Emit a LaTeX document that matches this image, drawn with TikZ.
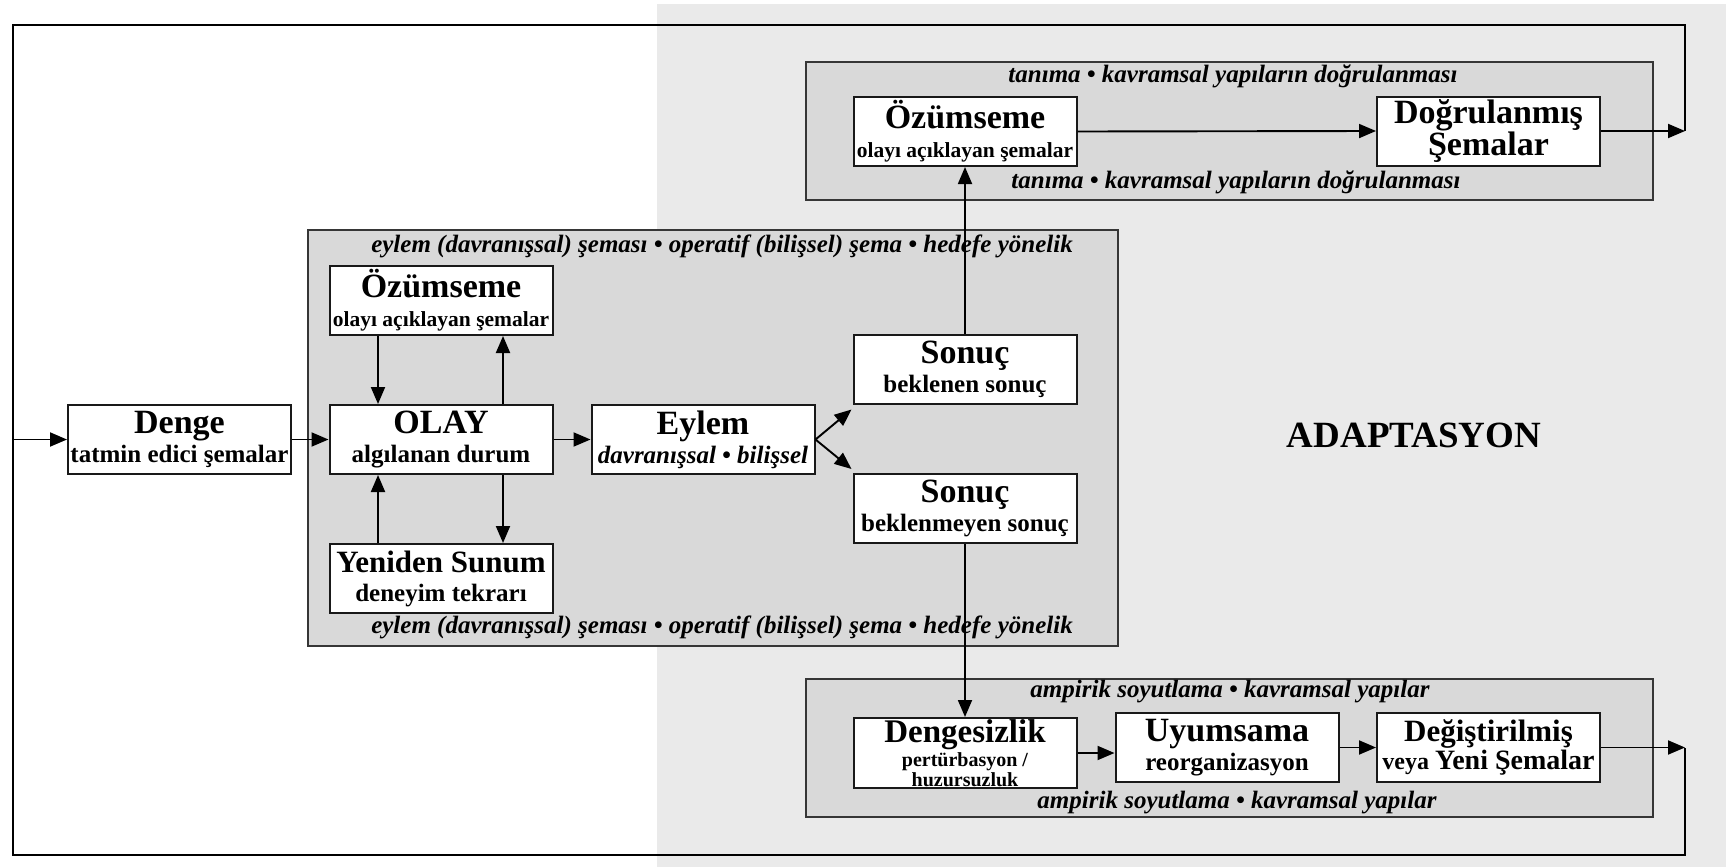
\documentclass[tikz,border=0pt]{standalone}
\usepackage{fontspec}
\setmainfont{Liberation Serif}
\usetikzlibrary{arrows.meta}

\definecolor{pagegray}{HTML}{EAEAEA}
\definecolor{groupgray}{HTML}{D9D9D9}
\definecolor{edgegray}{HTML}{363636}

% heading line inside a box
\newcommand{\boxhead}{\fontsize{34}{29}\selectfont\bfseries}
% fixed line pitch, even when lines touch
\newcommand{\fixedpitch}{\lineskiplimit=-30pt\relax}

\tikzset{
  box/.style={draw=black!90, line width=2pt, fill=white,
    minimum width=223pt, minimum height=69pt, inner sep=0pt, align=center,
    font=\fontsize{25}{29}\selectfont\bfseries},
  group/.style={draw=edgegray, line width=2pt, fill=groupgray},
  grouplabel/.style={anchor=base, inner sep=0pt,
    font=\fontsize{25}{29}\selectfont\bfseries\itshape},
  arr/.style={line width=1.9pt, -{Triangle[length=17pt,width=14pt]}},
  loopline/.style={line width=2pt},
}

\begin{document}
\begin{tikzpicture}[x=1pt,y=-1pt]
\useasboundingbox (0,0) rectangle (1726,867);

% backgrounds
\fill[white] (0,0) rectangle (1726,867);
\fill[pagegray] (657,4) rectangle (1726,867);

% grouping panels
\draw[group] (806,62) rectangle (1653,200);
\draw[group] (308,230) rectangle (1118,646);
\draw[group] (806,679) rectangle (1653,817);

\node[grouplabel] (gtopa) at (1233,82) {tanıma • kavramsal yapıların doğrulanması};
\node[grouplabel] (gtopb) at (1236,188) {tanıma • kavramsal yapıların doğrulanması};
\node[grouplabel] (gmida) at (722,252) {eylem (davranışsal) şeması • operatif (bilişsel) şema • hedefe yönelik};
\node[grouplabel] (gmidb) at (722,633) {eylem (davranışsal) şeması • operatif (bilişsel) şema • hedefe yönelik};
\node[grouplabel] (gbota) at (1230,697) {ampirik soyutlama • kavramsal yapılar};
\node[grouplabel] (gbotb) at (1237,808) {ampirik soyutlama • kavramsal yapılar};

% boxes
\node[box] (denge) at (179.5,439.5) {{\boxhead Denge}\\tatmin edici şemalar};
\node[box] (olay) at (441,439.5) {{\boxhead OLAY}\\algılanan durum};
\node[box] (eylem) at (703,439.5) {{\boxhead Eylem}\\{\itshape davranışsal • bilişsel}};
\node[box] (ozmid) at (441,300.5) {{\boxhead Özümseme}\\{\fontsize{21.5}{29}\selectfont olayı açıklayan şemalar}};
\node[box] (yeni) at (441,578.5) {{\fontsize{31}{29}\selectfont Yeniden Sunum}\\deneyim tekrarı};
\node[box] (son1) at (965,369) {{\boxhead Sonuç}\\beklenen sonuç};
\node[box] (son2) at (965,508.5) {{\boxhead Sonuç}\\beklenmeyen sonuç};
\node[box] (oztop) at (965,131.5) {{\boxhead Özümseme}\\{\fontsize{21.5}{29}\selectfont olayı açıklayan şemalar}};
\node[box, font=\fontsize{34}{32}\selectfont\bfseries] (dogr) at (1488.5,131) {Doğrulanmış\\Şemalar};
\node[box, minimum height=70pt, font=\fontsize{20}{20}\selectfont\bfseries\fixedpitch] (dengs) at (965,753)
  {{\fontsize{33}{20}\selectfont Dengesizlik}\\[4pt]pertürbasyon /\\huzursuzluk};
\node[box] (uyum) at (1227,747.5) {{\boxhead Uyumsama}\\reorganizasyon};
\node[box, font=\fontsize{24}{25}\selectfont\bfseries] (degis) at (1488.5,747.5)
  {{\fontsize{31}{25}\selectfont Değiştirilmiş}\\veya {\fontsize{28}{25}\selectfont Yeni Şemalar}};

\node[anchor=base, inner sep=0pt, font=\fontsize{37}{40}\selectfont\bfseries] (adapt) at (1414,447) {ADAPTASYON};

% connectors inside the action panel
\draw[arr] (denge.east) -- (olay.west);
\draw[arr] (olay.east) -- (eylem.west);
\draw[arr] ([xshift=-63pt]ozmid.south) -- ([xshift=-63pt]olay.north);
\draw[arr] ([xshift=62pt]olay.north) -- ([xshift=62pt]ozmid.south);
\draw[arr] ([xshift=62pt]olay.south) -- ([xshift=62pt]yeni.north);
\draw[arr] ([xshift=-63pt]yeni.north) -- ([xshift=-63pt]olay.south);
\draw[arr] (eylem.east) -- ([yshift=-5pt,xshift=-1pt]son1.south west);
\draw[arr] (eylem.east) -- ([yshift=4pt,xshift=-1pt]son2.north west);

% outcomes
\draw[arr] (son1.north) -- (oztop.south);
\draw[arr] (son2.south) -- (dengs.north);
\draw[arr] (oztop.east) -- (dogr.west);
\draw[arr] (dengs.east |- 0,753) -- (uyum.west |- 0,753);
\draw[arr] (uyum.east) -- (degis.west);

% feedback loop back to equilibrium
\coordinate (tr) at (1685,131);
\coordinate (br) at (1685,747.5);
\coordinate (ctr) at (1685,25);
\coordinate (ctl) at (13,25);
\coordinate (cbl) at (13,855);
\coordinate (cbr) at (1685,855);
\coordinate (lin) at (13,439.5);
\draw[arr] (dogr.east) -- (tr);
\draw[arr] (degis.east) -- (br);
\draw[loopline] (tr) -- (ctr) -- (ctl) -- (cbl) -- (cbr) -- (br);
\draw[arr] (lin) -- (denge.west);
\end{tikzpicture}
\end{document}
